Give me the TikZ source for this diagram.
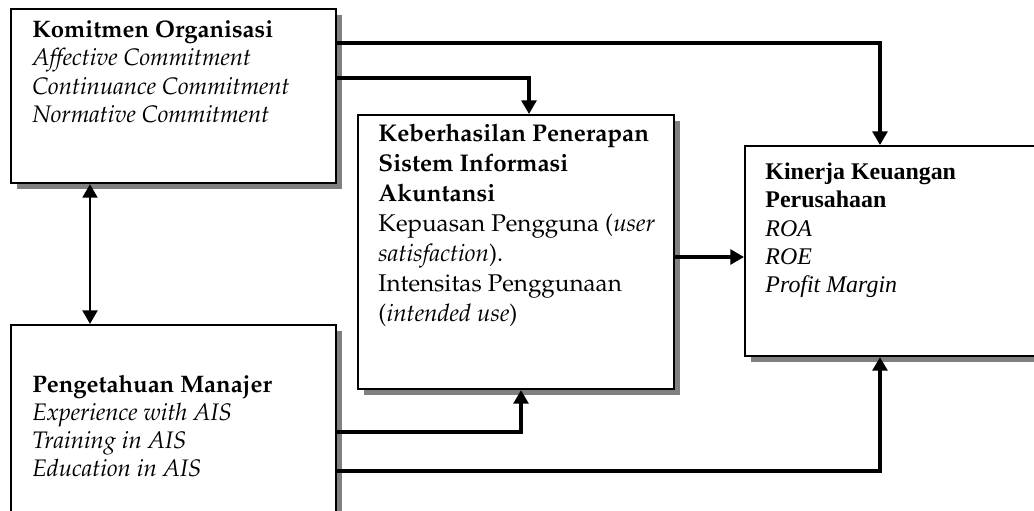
\documentclass[tikz,border=0pt]{standalone}
\usepackage{fontspec}
\setmainfont{Liberation Serif}
\usetikzlibrary{calc,shadows,arrows.meta}
\newcommand{\pala}{\fontencoding{T1}\fontfamily{ppl}\selectfont}

\begin{document}
\begin{tikzpicture}[font=\fontsize{17}{20}\selectfont]
        \tikzstyle{box}=[draw,line width=1.5pt,fill=white,rectangle,anchor=north west,inner sep=0pt,drop shadow={shadow xshift=0.15cm,shadow yshift=-0.15cm,fill=black!50,opacity=1}]
        \tikzstyle{txt}=[anchor=north west,align=left,inner sep=0pt]
        \tikzstyle{flow}=[line width=2.3pt,-{Triangle[length=0.34cm,width=0.37cm]}]
        \tikzstyle{link}=[line width=1.8pt,{Triangle[length=0.34cm,width=0.37cm]}-{Triangle[length=0.34cm,width=0.37cm]}]

        \useasboundingbox (0,0) rectangle (25.85,12.75);
        \clip (0,0) rectangle (25.85,12.75);

        % boxes
        \node[box,minimum width=8.125cm,minimum height=4.35cm] (komitmen) at (0.25,12.55) {};
        \node[box,minimum width=7.9cm,minimum height=6.85cm] (keberhasilan) at (8.925,9.9) {};
        \node[box,minimum width=8cm,minimum height=5.25cm] (kinerja) at (18.6,9.125) {};
        \node[box,minimum width=8.125cm,minimum height=6cm] (pengetahuan) at (0.25,4.65) {};

        % texts
        \node[txt] (komitmen text) at ($(komitmen.north west)+(0.55,-0.32)$)
            {\pala\textbf{Komitmen Organisasi}\\ \pala\textit{Affective Commitment}\\ \pala\textit{Continuance Commitment}\\ \pala\textit{Normative Commitment}};
        \node[txt,font=\fontsize{17.2}{21.3}\selectfont] (keberhasilan text) at ($(keberhasilan.north west)+(0.53,-0.25)$)
            {\pala\textbf{Keberhasilan Penerapan}\\ \pala\textbf{Sistem Informasi}\\ \pala\textbf{Akuntansi}\\
             \pala Kepuasan Pengguna (\textit{user}\\ \pala\textit{satisfaction}).\\ \pala Intensitas Penggunaan\\ \pala(\textit{intended use})};
        \node[txt] (kinerja text) at ($(kinerja.north west)+(0.53,-0.45)$)
            {\textbf{Kinerja Keuangan}\\ \textbf{Perusahaan}\\ \textit{ROA}\\ \textit{ROE}\\ \textit{Profit Margin}};
        \node[txt] (pengetahuan text) at ($(pengetahuan.north west)+(0.55,-1.27)$)
            {\pala\textbf{Pengetahuan Manajer}\\ \pala\textit{Experience with AIS}\\ \pala\textit{Training in AIS}\\ \pala\textit{Education in AIS}};

        % connectors
        \draw[flow] ([yshift=-0.875cm]komitmen.north east) -| ([xshift=3.4cm]kinerja.north west);
        \draw[flow] ([yshift=-1.75cm]komitmen.north east) -| ([xshift=4.3cm]keberhasilan.north west);
        \draw[link] ([xshift=2cm]komitmen.south west) -- ([xshift=2cm]pengetahuan.north west);
        \coordinate (sia out) at ([yshift=-3.575cm]keberhasilan.north east);
        \draw[flow] (sia out) -- (sia out -| kinerja.west);
        \draw[flow] ([yshift=-2.7cm]pengetahuan.north east) -| ([xshift=4.1cm]keberhasilan.south west);
        \draw[flow] ([yshift=-3.675cm]pengetahuan.north east) -| ([xshift=3.4cm]kinerja.south west);
\end{tikzpicture}
\end{document}
